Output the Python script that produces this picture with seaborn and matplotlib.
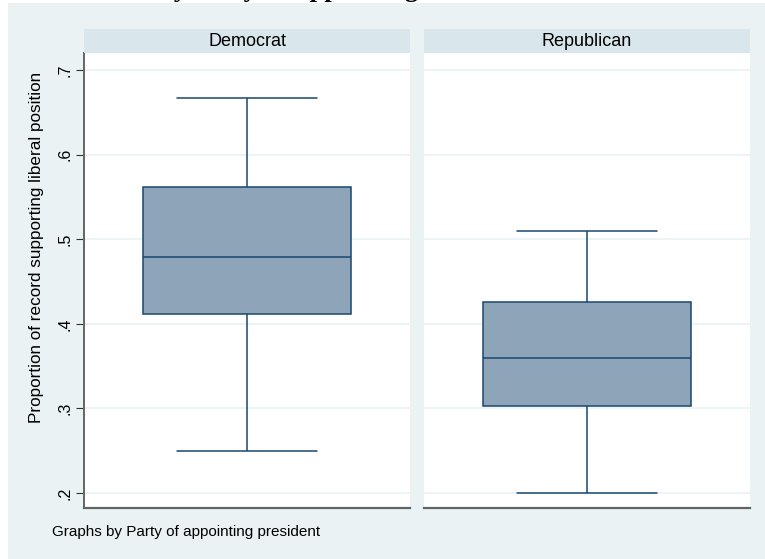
import numpy as np
import pandas as pd
import matplotlib
matplotlib.use("Agg")
import matplotlib.pyplot as plt
import seaborn as sns
from matplotlib.patches import Rectangle

# ---- data (five-number summaries: min, Q1, median, Q3, max) ----
parties = ["Democrat", "Republican"]
dem_values = [0.250, 0.412, 0.479, 0.562, 0.667]
rep_values = [0.200, 0.303, 0.360, 0.426, 0.510]
ytick_values = [0.2, 0.3, 0.4, 0.5, 0.6, 0.7]
ytick_labels = [".2", ".3", ".4", ".5", ".6", ".7"]

sns.set_theme(style="white")
plt.rcParams["font.family"] = ["Liberation Sans", "DejaVu Sans"]

df = pd.DataFrame({"party": np.repeat(parties, 5),
                   "value": dem_values + rep_values})

W, H = 765, 559
BG = "#EAF2F3"
STRIP = "#D9E6EB"
FILL = "#8EA4B8"
LINE = "#1A476F"
GRID = "#EAF2F3"

fig = plt.figure(figsize=(W / 100, H / 100), dpi=100)
fig.patch.set_facecolor(BG)

# white margins at top and left (as in reference)
fig.add_artist(Rectangle((0, 1 - 3 / H), 1, 3 / H, transform=fig.transFigure,
                         facecolor="white", edgecolor="none", zorder=0))
fig.add_artist(Rectangle((0, 0), 8 / W, 1, transform=fig.transFigure,
                         facecolor="white", edgecolor="none", zorder=0))

panels = [(84, 410), (424, 750)]
top_px, bot_px = 53, 508
strip_top = 29
ylim = (0.1823, 0.7201)

for i, (party, (x0, x1)) in enumerate(zip(parties, panels)):
    ax = fig.add_axes([x0 / W, 1 - bot_px / H, (x1 - x0) / W, (bot_px - top_px) / H])
    ax.set_facecolor("white")
    sub = df[df["party"] == party]
    sns.boxplot(data=sub, y="value", ax=ax, width=0.64, whis=(0, 100),
                color=FILL, saturation=1, linecolor=LINE, linewidth=1.1,
                showfliers=False)
    vmin, vmax = sub["value"].min(), sub["value"].max()
    for ln in ax.lines:
        yd = np.asarray(ln.get_ydata(), dtype=float)
        if len(yd) == 2 and yd[0] == yd[1] and (np.isclose(yd[0], vmin) or np.isclose(yd[0], vmax)):
            ln.set_xdata([-0.216, 0.216])
    ax.set_xlim(-0.5, 0.5)
    ax.set_ylim(*ylim)
    ax.set_xticks([])
    ax.set_xlabel("")
    ax.set_ylabel("")
    ax.set_yticks(ytick_values)
    ax.yaxis.grid(True, color=GRID, linewidth=1.2)
    ax.set_axisbelow(True)
    for s in ["top", "right"]:
        ax.spines[s].set_visible(False)
    ax.spines["bottom"].set_color("#5E6666")
    ax.spines["bottom"].set_linewidth(1.6)
    if i == 0:
        ax.spines["left"].set_color("#5E6666")
        ax.spines["left"].set_linewidth(1.4)
        ax.set_yticklabels(ytick_labels)
        ax.tick_params(axis="y", left=True, length=5.5, width=0.8, color="#333333",
                       labelsize=11.5, pad=3, labelrotation=90, labelcolor="black")
        for lab in ax.get_yticklabels():
            lab.set_va("center")
    else:
        ax.spines["left"].set_visible(False)
        ax.tick_params(axis="y", left=False, labelleft=False)

    # strip header
    fig.add_artist(Rectangle((x0 / W, 1 - top_px / H), (x1 - x0) / W,
                             (top_px - strip_top) / H, transform=fig.transFigure,
                             facecolor=STRIP, edgecolor="none"))
    fig.text((x0 + x1) / 2 / W, 1 - 41.5 / H, party,
             ha="center", va="center", fontsize=13, color="black")

fig.text(37 / W, 1 - 247.5 / H, "Proportion of record supporting liberal position",
         rotation=90, ha="center", va="center", fontsize=12.3, color="black")
fig.text(52 / W, 1 - 532 / H, "Graphs by Party of appointing president",
         ha="left", va="center", fontsize=11, color="black")

# title, mostly cropped above the top edge in the reference
fig.text(29 / W, 1 + 2.5 / H, "Liberalism by Party of Appointing President",
         family=["Liberation Serif"], weight="bold", fontsize=19,
         ha="left", va="baseline", color="black")

fig.savefig("out.png", dpi=100, facecolor=fig.get_facecolor())
